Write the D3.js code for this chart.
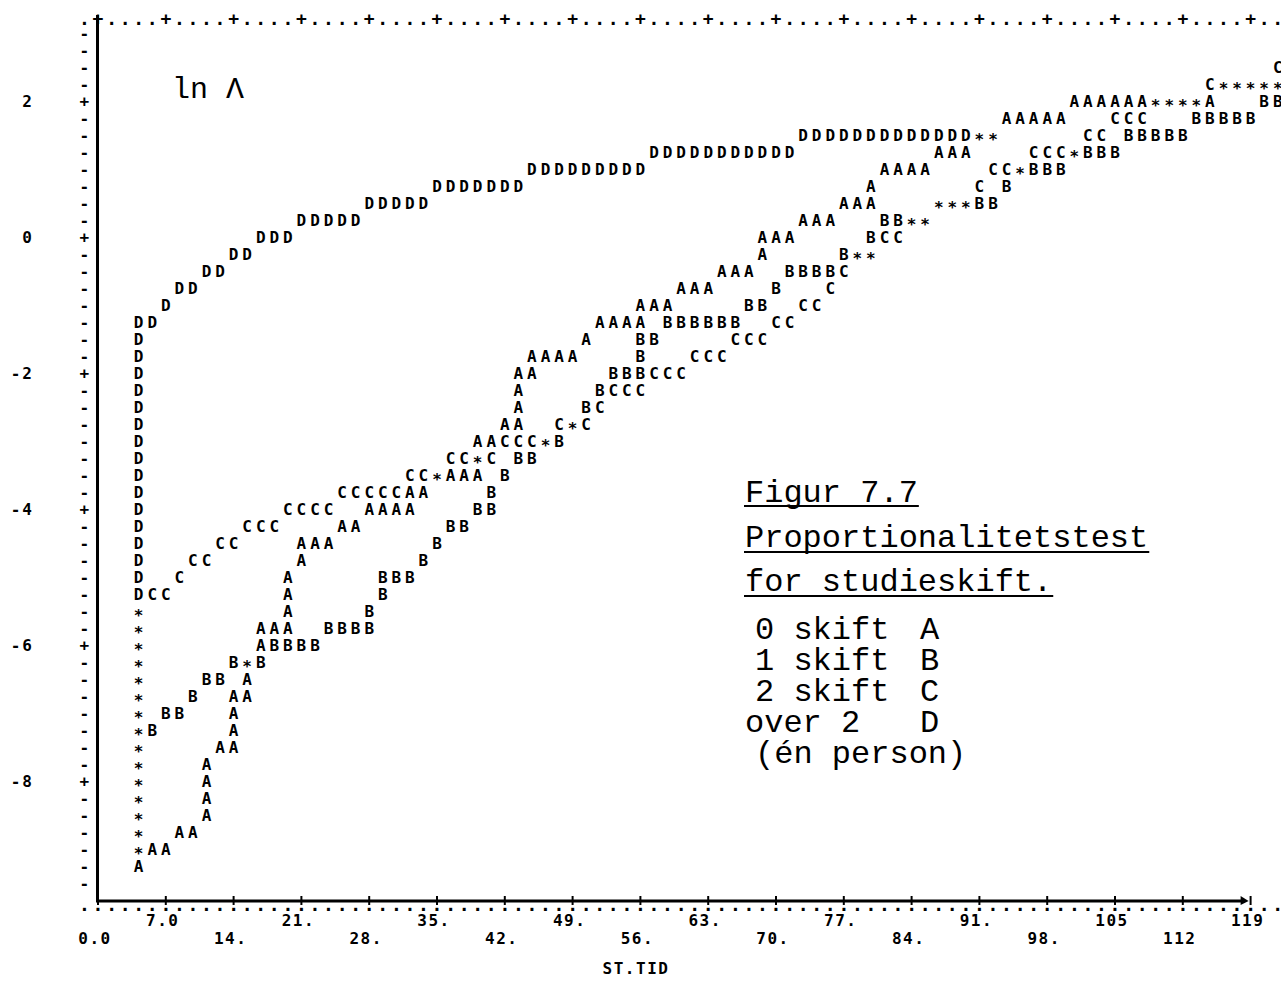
<!DOCTYPE html>
<html>
<head>
<meta charset="utf-8">
<script src="https://cdn.jsdelivr.net/npm/d3@7"></script>
<style>
  body { margin: 0; background: #fff; }
  .prn { font-family: "DejaVu Sans Mono", monospace; font-weight: bold; font-size: 16px; fill: #000; }
  .typ { font-family: "Liberation Mono", monospace; font-size: 32px; fill: #000; }
</style>
</head>
<body>
<svg width="1281" height="983"></svg>
<script>
// ln A (cumulative hazard) against ST.TID, one printer symbol per point
const pointsA = [
  [4.2,-9.25],[5.6,-9.0],[7.0,-9.0],[8.4,-8.75],[9.8,-8.75],
  [11.2,-8.5],[11.2,-8.25],[11.2,-8.0],[11.2,-7.75],[12.6,-7.5],
  [14.0,-7.5],[14.0,-7.25],[14.0,-7.0],[14.0,-6.75],[15.4,-6.75],[15.4,-6.5],
  [16.8,-6.0],[16.8,-5.75],[18.2,-5.75],
  [19.6,-5.75],[19.6,-5.5],[19.6,-5.25],[19.6,-5.0],
  [21.0,-4.75],[21.0,-4.5],[22.4,-4.5],[23.8,-4.5],[25.2,-4.25],[26.6,-4.25],
  [28.0,-4.0],[29.4,-4.0],[30.8,-4.0],[32.2,-4.0],[32.2,-3.75],[33.6,-3.75],
  [36.4,-3.5],[37.8,-3.5],[39.2,-3.5],[39.2,-3.0],[40.6,-3.0],
  [42.0,-2.75],[43.4,-2.75],[43.4,-2.5],[43.4,-2.25],[43.4,-2.0],
  [44.8,-2.0],[44.8,-1.75],[46.2,-1.75],[47.6,-1.75],[49.0,-1.75],[50.4,-1.5],
  [51.8,-1.25],[53.2,-1.25],[54.6,-1.25],[56.0,-1.25],
  [56.0,-1.0],[57.4,-1.0],[58.8,-1.0],
  [60.2,-0.75],[61.6,-0.75],[63.0,-0.75],[64.4,-0.5],[65.8,-0.5],[67.2,-0.5],
  [68.6,-0.25],[68.6,0],[70.0,0],[71.4,0],
  [72.8,0.25],[74.2,0.25],[75.6,0.25],[77.0,0.5],[78.4,0.5],[79.8,0.5],[79.8,0.75],
  [81.2,1.0],[82.6,1.0],[84.0,1.0],[85.4,1.0],[86.8,1.25],[88.2,1.25],[89.6,1.25],
  [93.8,1.75],[95.2,1.75],[96.6,1.75],[98.0,1.75],[99.4,1.75],
  [100.8,2.0],[102.2,2.0],[103.6,2.0],[105.0,2.0],[106.4,2.0],[107.8,2.0],[114.8,2.0]
];

const pointsB = [
  [5.6,-7.25],[7.0,-7.0],[8.4,-7.0],[9.8,-6.75],[11.2,-6.5],[12.6,-6.5],
  [14.0,-6.25],[16.8,-6.25],
  [18.2,-6.0],[19.6,-6.0],[21.0,-6.0],[22.4,-6.0],
  [23.8,-5.75],[25.2,-5.75],[26.6,-5.75],[28.0,-5.75],[28.0,-5.5],
  [29.4,-5.25],[29.4,-5.0],[30.8,-5.0],[32.2,-5.0],[33.6,-4.75],[35.0,-4.5],
  [36.4,-4.25],[37.8,-4.25],[39.2,-4.0],[40.6,-4.0],[40.6,-3.75],[42.0,-3.5],
  [43.4,-3.25],[44.8,-3.25],[47.6,-3.0],[50.4,-2.5],[51.8,-2.25],
  [53.2,-2.0],[54.6,-2.0],[56.0,-2.0],[56.0,-1.75],[56.0,-1.5],[57.4,-1.5],
  [58.8,-1.25],[60.2,-1.25],[61.6,-1.25],[63.0,-1.25],[64.4,-1.25],[65.8,-1.25],
  [67.2,-1.0],[68.6,-1.0],[70.0,-0.75],
  [71.4,-0.5],[72.8,-0.5],[74.2,-0.5],[75.6,-0.5],[77.0,-0.25],[79.8,0],
  [81.2,0.25],[82.6,0.25],[91.0,0.5],[92.4,0.5],[93.8,0.75],
  [96.6,1.0],[98.0,1.0],[99.4,1.0],[102.2,1.25],[103.6,1.25],[105.0,1.25],
  [106.4,1.5],[107.8,1.5],[109.2,1.5],[110.6,1.5],[112.0,1.5],
  [113.4,1.75],[114.8,1.75],[116.2,1.75],[117.6,1.75],[119.0,1.75],
  [120.4,2.0],[121.8,2.0]
];

const pointsC = [
  [5.6,-5.25],[7.0,-5.25],[8.4,-5.0],[9.8,-4.75],[11.2,-4.75],[12.6,-4.5],[14.0,-4.5],
  [15.4,-4.25],[16.8,-4.25],[18.2,-4.25],
  [19.6,-4.0],[21.0,-4.0],[22.4,-4.0],[23.8,-4.0],
  [25.2,-3.75],[26.6,-3.75],[28.0,-3.75],[29.4,-3.75],[30.8,-3.75],
  [32.2,-3.5],[33.6,-3.5],[36.4,-3.25],[37.8,-3.25],[40.6,-3.25],
  [42.0,-3.0],[43.4,-3.0],[44.8,-3.0],[47.6,-2.75],[50.4,-2.75],[51.8,-2.5],
  [53.2,-2.25],[54.6,-2.25],[56.0,-2.25],[57.4,-2.0],[58.8,-2.0],[60.2,-2.0],
  [61.6,-1.75],[63.0,-1.75],[64.4,-1.75],[65.8,-1.5],[67.2,-1.5],[68.6,-1.5],
  [70.0,-1.25],[71.4,-1.25],[72.8,-1.0],[74.2,-1.0],[75.6,-0.75],[77.0,-0.5],
  [81.2,0],[82.6,0],[91.0,0.75],[92.4,1.0],[93.8,1.0],
  [96.6,1.25],[98.0,1.25],[99.4,1.25],[102.2,1.5],[103.6,1.5],
  [105.0,1.75],[106.4,1.75],[107.8,1.75],[114.8,2.25],[121.8,2.5]
];

const pointsD = [
  [4.2,-5.25],[4.2,-5.0],[4.2,-4.75],[4.2,-4.5],[4.2,-4.25],[4.2,-4.0],[4.2,-3.75],
  [4.2,-3.5],[4.2,-3.25],[4.2,-3.0],[4.2,-2.75],[4.2,-2.5],[4.2,-2.25],[4.2,-2.0],
  [4.2,-1.75],[4.2,-1.5],[4.2,-1.25],
  [5.6,-1.25],[7.0,-1.0],[8.4,-0.75],[9.8,-0.75],[11.2,-0.5],[12.6,-0.5],
  [14.0,-0.25],[15.4,-0.25],[16.8,0],[18.2,0],[19.6,0],
  [21.0,0.25],[22.4,0.25],[23.8,0.25],[25.2,0.25],[26.6,0.25],
  [28.0,0.5],[29.4,0.5],[30.8,0.5],[32.2,0.5],[33.6,0.5],
  [35.0,0.75],[36.4,0.75],[37.8,0.75],[39.2,0.75],[40.6,0.75],[42.0,0.75],[43.4,0.75],
  [44.8,1.0],[46.2,1.0],[47.6,1.0],[49.0,1.0],[50.4,1.0],[51.8,1.0],[53.2,1.0],[54.6,1.0],[56.0,1.0],
  [57.4,1.25],[58.8,1.25],[60.2,1.25],[61.6,1.25],[63.0,1.25],[64.4,1.25],
  [65.8,1.25],[67.2,1.25],[68.6,1.25],[70.0,1.25],[71.4,1.25],
  [72.8,1.5],[74.2,1.5],[75.6,1.5],[77.0,1.5],[78.4,1.5],[79.8,1.5],[81.2,1.5],
  [82.6,1.5],[84.0,1.5],[85.4,1.5],[86.8,1.5],[88.2,1.5],[89.6,1.5]
];

// cells where several groups fall together (printed as *)
const pointsMulti = [
  [4.2,-9.0],[4.2,-8.75],[4.2,-8.5],[4.2,-8.25],[4.2,-8.0],[4.2,-7.75],[4.2,-7.5],
  [4.2,-7.25],[4.2,-7.0],[4.2,-6.75],[4.2,-6.5],[4.2,-6.25],[4.2,-6.0],[4.2,-5.75],[4.2,-5.5],
  [15.4,-6.25],[35.0,-3.5],[39.2,-3.25],[46.2,-3.0],[49.0,-2.75],
  [78.4,-0.25],[79.8,-0.25],[84.0,0.25],[85.4,0.25],[86.8,0.5],[88.2,0.5],[89.6,0.5],
  [91.0,1.5],[92.4,1.5],[95.2,1.0],[100.8,1.25],
  [109.2,2.0],[110.6,2.0],[112.0,2.0],[113.4,2.0],
  [116.2,2.25],[117.6,2.25],[119.0,2.25],[120.4,2.25],[121.8,2.25]
];

const series = [
  { sym: "A", pts: pointsA },
  { sym: "B", pts: pointsB },
  { sym: "C", pts: pointsC },
  { sym: "D", pts: pointsD },
  { sym: "*", pts: pointsMulti }
];

const xTicks = [0, 7, 14, 21, 28, 35, 42, 49, 56, 63, 70, 77, 84, 91, 98, 105, 112, 119];
const xTickText = ["0.0", "7.0", "14.", "21.", "28.", "35.", "42.", "49.", "56.", "63.",
                   "70.", "77.", "84.", "91.", "98.", "105", "112", "119"];
const yTicks = [2, 0, -2, -4, -6, -8];

const legendLabels = ["0 skift", "1 skift", "2 skift", "over 2"];
const legendKeys = ["A", "B", "C", "D"];

var svg = d3.select("svg");

var x = d3.scaleLinear().domain([0, 119]).range([98, 1250.6]);
var y = d3.scaleLinear().domain([-9.75, 3.25]).range([900.7, 16.7]);

const COL = (x(119) - x(0)) / 85;   // one printer column = 1.4 time units

// left edge: printer row marks, '+' at labelled rows
var rows = d3.range(-9.5, 3.01, 0.25);
svg.append("g").selectAll("text")
  .data(rows)
  .enter().append("text")
    .attr("class", "prn")
    .attr("x", x(0) - COL)
    .attr("y", function(d) { return y(d); })
    .attr("dy", "0.32em")
    .attr("text-anchor", "middle")
    .text(function(d) { return (Math.abs(d % 2) < 1e-9) ? "+" : "-"; });

svg.append("g").selectAll("text")
  .data(yTicks)
  .enter().append("text")
    .attr("class", "prn")
    .attr("x", 34)
    .attr("y", function(d) { return y(d); })
    .attr("dy", "0.36em")
    .attr("text-anchor", "end")
    .style("letter-spacing", "2px")
    .text(function(d) { return d; });

// top border of dots with '+' every fifth column
var cols = d3.range(-1, 88);
svg.append("g").selectAll("text")
  .data(cols)
  .enter().append("text")
    .attr("class", "prn")
    .attr("x", function(c) { return x(0) + c * COL; })
    .attr("y", y(3.15) + 1.5)
    .attr("text-anchor", "middle")
    .style("font-size", "18px")
    .text(function(c) { return (c >= 0 && c % 5 === 0) ? "+" : "."; });

// bottom border row of dots
svg.append("g").selectAll("text")
  .data(cols)
  .enter().append("text")
    .attr("class", "prn")
    .attr("x", function(c) { return x(0) + c * COL; })
    .attr("y", 911)
    .attr("text-anchor", "middle")
    .style("font-size", "18px")
    .text(".");

// ruled axis lines
svg.append("line")
  .attr("x1", 97.5).attr("x2", 97.5)
  .attr("y1", 15).attr("y2", 902)
  .attr("stroke", "#000").attr("stroke-width", 3);

svg.append("line")
  .attr("x1", 96).attr("x2", x(119) - 6)
  .attr("y1", 901).attr("y2", 901)
  .attr("stroke", "#000").attr("stroke-width", 3);

svg.append("path")
  .attr("d", "M" + (x(119) - 10) + ",896 L" + (x(119) - 2) + ",901 L" + (x(119) - 10) + ",905 Z")
  .attr("fill", "#000");

svg.append("g").selectAll("line")
  .data(xTicks)
  .enter().append("line")
    .attr("x1", function(d) { return x(d); })
    .attr("x2", function(d) { return x(d); })
    .attr("y1", 896).attr("y2", 905)
    .attr("stroke", "#000").attr("stroke-width", 2);

// tick labels in two staggered rows
svg.append("g").selectAll("text")
  .data(xTicks)
  .enter().append("text")
    .attr("class", "prn")
    .attr("x", function(d) { return x(d) - 3; })
    .attr("y", function(d, i) { return i % 2 ? 926 : 944; })
    .attr("text-anchor", "middle")
    .style("letter-spacing", "1.5px")
    .text(function(d, i) { return xTickText[i]; });

svg.append("text")
  .attr("class", "prn")
  .attr("x", 636)
  .attr("y", 974)
  .attr("text-anchor", "middle")
  .style("letter-spacing", "1.5px")
  .text("ST.TID");

// plotted symbols
var marks = svg.append("g");
series.forEach(function(s) {
  marks.append("g").selectAll("text")
    .data(s.pts)
    .enter().append("text")
      .attr("class", "prn")
      .attr("x", function(d) { return x(d[0]); })
      .attr("y", function(d) { return y(d[1]); })
      .attr("dy", s.sym === "*" ? "0.55em" : "0.36em")
      .attr("text-anchor", "middle")
      .text(s.sym);
});

// typed annotations
svg.append("text")
  .attr("class", "typ")
  .attr("x", 172).attr("y", 98)
  .style("font-size", "30px")
  .text("ln Λ");

var heads = [["Figur 7.7", 502, 506], ["Proportionalitetstest", 547, 552], ["for studieskift.", 591, 596]];
heads.forEach(function(h) {
  var t = svg.append("text")
    .attr("class", "typ")
    .attr("x", 745).attr("y", h[1])
    .text(h[0]);
  var w = t.node().getComputedTextLength();
  svg.append("line")
    .attr("x1", 744).attr("x2", 746 + w)
    .attr("y1", h[2]).attr("y2", h[2])
    .attr("stroke", "#000").attr("stroke-width", 2);
});

var legend = svg.append("g");
legendLabels.forEach(function(lab, i) {
  var by = 639 + i * 31;
  legend.append("text")
    .attr("class", "typ")
    .attr("x", i < 3 ? 755 : 745).attr("y", by)
    .text(lab);
  legend.append("text")
    .attr("class", "typ")
    .attr("x", 920).attr("y", by)
    .text(legendKeys[i]);
});
legend.append("text")
  .attr("class", "typ")
  .attr("x", 755).attr("y", 763)
  .text("(én person)");
</script>
</body>
</html>
